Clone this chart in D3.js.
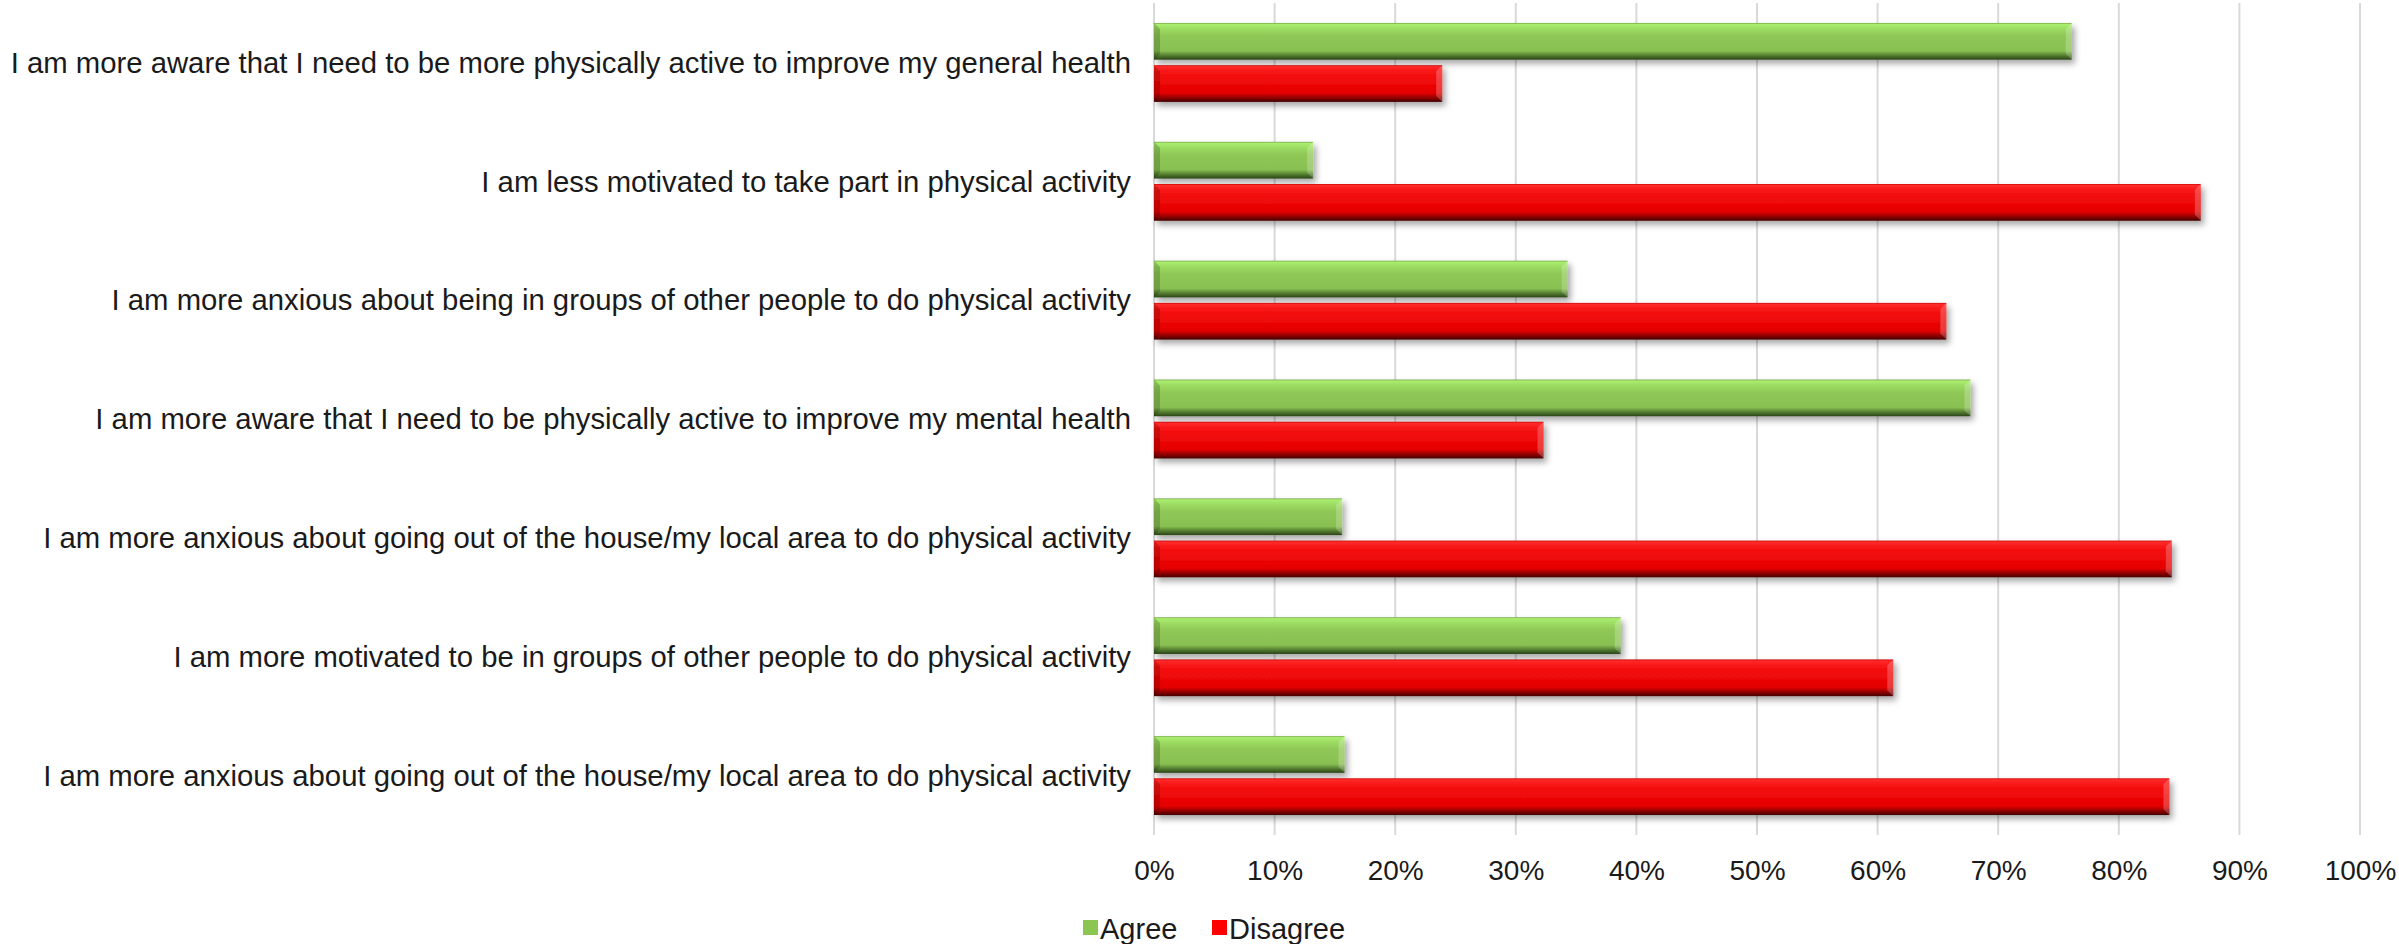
<!DOCTYPE html>
<meta charset="utf-8">
<style>
  body { margin: 0; background: #fff; }
  text { font-family: "Liberation Sans", Arial, sans-serif; fill: #1a1a1a; }
</style>
<body>
<script src="https://cdn.jsdelivr.net/npm/d3@7/dist/d3.min.js"></script>
<script>

    var width = 2399,
        height = 944;

    // survey statements, top to bottom
    var statements = [
        "I am more aware that I need to be more physically active to improve my general health",
        "I am less motivated to take part in physical activity",
        "I am more anxious about being in groups of other people to do physical activity",
        "I am more aware that I need to be physically active to improve my mental health",
        "I am more anxious about going out of the house/my local area to do physical activity",
        "I am more motivated to be in groups of other people to do physical activity",
        "I am more anxious about going out of the house/my local area to do physical activity"
    ];
    var seriesNames = ["Agree", "Disagree"];
    var agree    = [76.1, 13.2, 34.3, 67.7, 15.6, 38.7, 15.8];
    var disagree = [23.9, 86.8, 65.7, 32.3, 84.4, 61.3, 84.2];
    var ticks = [0, 10, 20, 30, 40, 50, 60, 70, 80, 90, 100];

    var margin = {left: 1154, right: 39, top: 3, bottom: 109};

    var svg = d3.select("body").append("svg")
            .attr("width", width)
            .attr("height", height);

    var defs = svg.append("defs");

    // bevelled bar look
    function gradient(id, stops) {
        var g = defs.append("linearGradient").attr("id", id)
                .attr("x1", 0).attr("y1", 0).attr("x2", 0).attr("y2", 1);
        stops.forEach(function(s) {
            g.append("stop").attr("offset", s[0]).attr("stop-color", s[1]);
        });
    }
    gradient("gAgree", [[0, "#79a64a"], [0.04, "#a9ee6e"], [0.16, "#9ddc63"], [0.35, "#8fc856"],
                        [0.76, "#89c052"], [0.87, "#5a8533"], [1, "#2a4318"]]);
    gradient("gDisagree", [[0, "#cc0000"], [0.04, "#ff2b2b"], [0.18, "#f71414"], [0.45, "#ef0808"],
                           [0.76, "#e40202"], [0.88, "#960000"], [1, "#440000"]]);

    var shadow = defs.append("filter").attr("id", "shadow")
            .attr("x", "-5%").attr("y", "-30%").attr("width", "110%").attr("height", "170%");
    shadow.append("feDropShadow").attr("dx", 3).attr("dy", 4).attr("stdDeviation", 3)
            .attr("flood-color", "#000").attr("flood-opacity", 0.35);

    var x = d3.scaleLinear()
            .domain([0, 100])
            .range([margin.left, width - margin.right]);

    var y0 = d3.scaleBand()
            .domain(d3.range(statements.length))
            .range([margin.top, height - margin.bottom])
            .paddingInner(0.336)
            .paddingOuter(0.168);

    var y1 = d3.scaleBand()
            .domain(seriesNames)
            .range([0, y0.bandwidth()])
            .paddingInner(0.13);

    var fills = {Agree: "url(#gAgree)", Disagree: "url(#gDisagree)"};
    var keyColor = {Agree: "#8dc553", Disagree: "#ff0000"};

    // vertical gridlines
    svg.append("g")
            .selectAll("line")
            .data(ticks)
            .enter().append("line")
            .attr("x1", function(d) { return x(d); })
            .attr("x2", function(d) { return x(d); })
            .attr("y1", margin.top)
            .attr("y2", height - margin.bottom)
            .attr("stroke", "#d9d9d9")
            .attr("stroke-width", 2);

    // x axis labels
    var xAxis = d3.axisBottom(x)
            .tickValues(ticks)
            .tickSize(0)
            .tickPadding(0)
            .tickFormat(function(d) { return d + "%"; });

    var gx = svg.append("g")
            .attr("transform", "translate(0," + (height - margin.bottom) + ")")
            .call(xAxis);
    gx.select(".domain").remove();
    gx.selectAll("text")
            .attr("dy", null)
            .attr("y", 45)
            .style("font-size", "28px")
            .style("font-family", null)
            .attr("fill", "#1a1a1a");

    // category labels
    svg.append("g")
            .selectAll("text")
            .data(statements)
            .enter().append("text")
            .attr("x", margin.left - 23)
            .attr("y", function(d, i) { return y0(i) + y0.bandwidth() / 2; })
            .attr("dy", "0.35em")
            .attr("text-anchor", "end")
            .style("font-size", "29.3px")
            .text(function(d) { return d; });

    // bars
    var rows = statements.map(function(s, i) {
        return [{key: "Agree", value: agree[i]}, {key: "Disagree", value: disagree[i]}];
    });

    var group = svg.append("g")
            .selectAll("g")
            .data(rows)
            .enter().append("g")
            .attr("transform", function(d, i) { return "translate(0," + y0(i) + ")"; });

    var bar = group.selectAll("g")
            .data(function(d) { return d; })
            .enter().append("g")
            .attr("filter", "url(#shadow)");

    bar.append("rect")
            .attr("x", x(0))
            .attr("y", function(d) { return y1(d.key); })
            .attr("width", function(d) { return x(d.value) - x(0); })
            .attr("height", y1.bandwidth())
            .attr("fill", function(d) { return fills[d.key]; });

    // end bevels
    var bv = 6;
    bar.append("path")
            .attr("d", function(d) {
                var t = y1(d.key), h = y1.bandwidth(), l = x(0);
                return "M" + l + "," + t + "L" + (l + bv) + "," + (t + bv) + "L" + (l + bv) + "," + (t + h - bv) +
                       "L" + l + "," + (t + h) + "Z";
            })
            .attr("fill", "#000").attr("fill-opacity", 0.18);
    bar.append("path")
            .attr("d", function(d) {
                var t = y1(d.key), h = y1.bandwidth(), r = x(d.value);
                return "M" + r + "," + t + "L" + (r - bv) + "," + (t + bv) + "L" + (r - bv) + "," + (t + h - bv) +
                       "L" + r + "," + (t + h) + "Z";
            })
            .attr("fill", "#fff").attr("fill-opacity", 0.22);

    // legend
    var legend = svg.append("g")
            .attr("transform", "translate(1083," + 920 + ")");
    var item = legend.selectAll("g")
            .data(seriesNames)
            .enter().append("g")
            .attr("transform", function(d, i) { return "translate(" + (i * 129) + ",0)"; });
    item.append("rect")
            .attr("width", 15).attr("height", 15)
            .attr("fill", function(d) { return keyColor[d]; });
    item.append("text")
            .attr("x", 17).attr("y", 9)
            .attr("dy", "0.35em")
            .style("font-size", "29px")
            .text(function(d) { return d; });

</script>
